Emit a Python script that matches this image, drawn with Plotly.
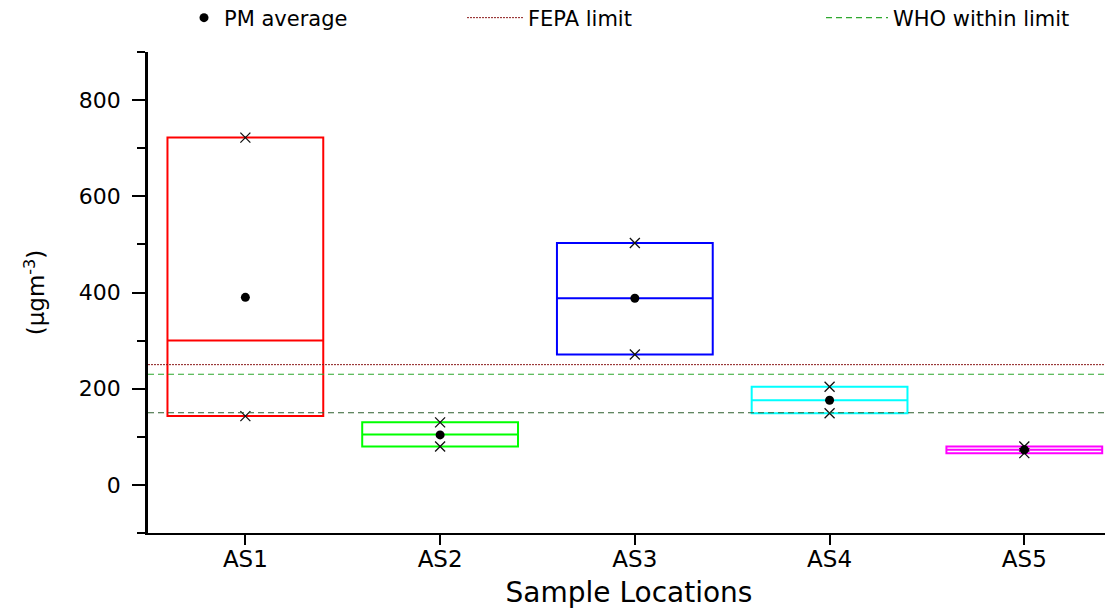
import plotly.graph_objects as go

# ---- data ----
locations = ["AS1", "AS2", "AS3", "AS4", "AS5"]
loc_pos = [1, 2, 3, 4, 5]
pm_min = [143, 80, 271, 149, 66]
pm_median = [300, 105, 388, 176, 73]
pm_max = [722, 130, 503, 204, 80]
pm_mean = [390, 104, 388, 176, 73]
box_colors = ["#FF0000", "#00FF00", "#0000FF", "#00FFFF", "#FF00FF"]

fepa_limit = 250
who_limit = 230
lower_limit = 150

y_ticks = [0, 200, 400, 600, 800]
x_range = [0.5, 5.44]
y_range = [-100, 900]

fig = go.Figure()

for i, loc in enumerate(locations):
    fig.add_trace(go.Box(
        x=[loc_pos[i]],
        q1=[pm_min[i]], median=[pm_median[i]], q3=[pm_max[i]],
        lowerfence=[pm_min[i]], upperfence=[pm_max[i]],
        width=0.8,
        line=dict(color=box_colors[i], width=2),
        fillcolor="rgba(0,0,0,0)",
        boxpoints=False,
        showlegend=False,
        hoverinfo="skip",
    ))

# min/max markers
fig.add_trace(go.Scatter(
    x=loc_pos + loc_pos, y=pm_max + pm_min, mode="markers",
    marker=dict(symbol="x-thin", size=10, line=dict(color="#111111", width=1.3)),
    showlegend=False, hoverinfo="skip",
))

# mean
fig.add_trace(go.Scatter(
    x=loc_pos, y=pm_mean, mode="markers", name="PM average",
    marker=dict(symbol="circle", size=9, color="black"),
    legend="legend",
))

# limit lines
fig.add_trace(go.Scatter(
    x=x_range, y=[fepa_limit, fepa_limit], mode="lines", name="FEPA limit",
    line=dict(color="#8B1A1A", width=1, dash="2px,1px"),
    legend="legend2",
))
fig.add_trace(go.Scatter(
    x=x_range, y=[who_limit, who_limit], mode="lines", name="WHO within limit",
    line=dict(color="#2EA82E", width=1.2, dash="6px,4px"),
    legend="legend3",
))
fig.add_trace(go.Scatter(
    x=x_range, y=[lower_limit, lower_limit], mode="lines",
    line=dict(color="#2F5F2F", width=1.2, dash="6px,4px"),
    showlegend=False, hoverinfo="skip",
))

font_family = "DejaVu Sans, Liberation Sans, Arial, sans-serif"
W, H = 1105, 602  # page body adds an 8px offset
legend_common = dict(
    orientation="h", xref="container", yref="container",
    yanchor="middle", y=1 - 10 / H, bgcolor="rgba(0,0,0,0)",
    font=dict(family=font_family, size=21, color="black"),
)

fig.update_layout(
    width=W, height=H,
    margin=dict(l=140, r=3, t=44, b=77, autoexpand=False),
    paper_bgcolor="white", plot_bgcolor="white",
    font=dict(family=font_family, color="black"),
    legend=dict(**legend_common, x=176 / W, itemwidth=30),
    legend2=dict(**legend_common, x=454 / W, itemwidth=56),
    legend3=dict(**legend_common, x=813 / W, itemwidth=62),
    xaxis=dict(
        range=x_range, tickvals=loc_pos, ticktext=locations,
        showgrid=False, zeroline=False,
        showline=True, linecolor="black", linewidth=2,
        ticks="outside", ticklen=10, tickwidth=2, tickcolor="black",
        tickfont=dict(size=23),
        ticklabelstandoff=-6,
        title=dict(text="Sample Locations", font=dict(size=28), standoff=12),
    ),
    yaxis=dict(
        range=y_range, tickvals=y_ticks,
        showgrid=False, zeroline=False,
        showline=True, linecolor="black", linewidth=2.5,
        ticks="outside", ticklen=13, tickwidth=2, tickcolor="black",
        minor=dict(dtick=100, ticks="outside", ticklen=8, tickwidth=2, tickcolor="black"),
        tickfont=dict(size=22),
        ticklabelstandoff=7,
        title=dict(text="(μgm<sup>-3</sup>)", font=dict(size=23), standoff=28),
    ),
)

fig.write_html("out.html")
